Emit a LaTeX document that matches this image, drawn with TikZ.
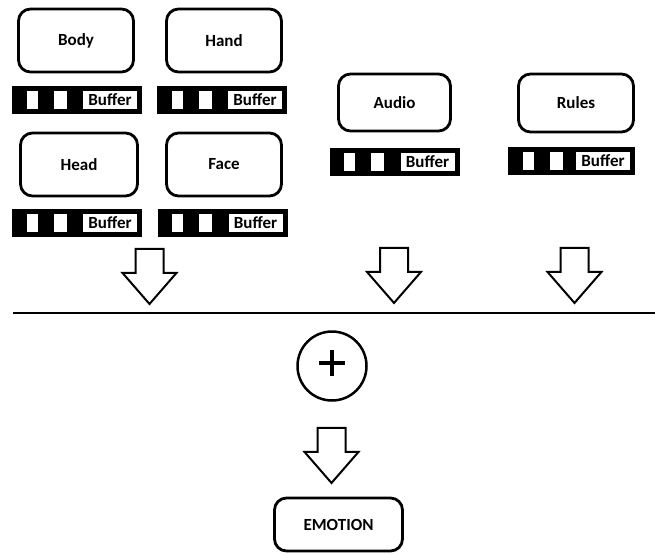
\documentclass[tikz,border=0pt]{standalone}
\usepackage{fontspec}
\setmainfont{Carlito}
\usetikzlibrary{shapes.arrows, positioning, calc}
\tikzset{
  source/.style={rectangle, rounded corners=12pt, draw, line width=2.8pt, minimum width=115pt, minimum height=63pt, font=\bfseries\fontsize{17}{20}\selectfont}, % input box
  buffer/.style={rectangle, fill=black, minimum width=130pt, minimum height=28pt, inner sep=0pt}, % black buffer strip
  buflabel/.style={rectangle, fill=white, minimum width=54pt, minimum height=18pt, inner sep=0pt, font=\bfseries\fontsize{17}{20}\selectfont},
  bigarrow/.style={single arrow, draw, line width=2pt, rotate=-90, anchor=tip, minimum height=55pt, minimum width=52pt, single arrow head extend=13pt, single arrow tip angle=82, inner xsep=0pt, inner ysep=13pt}
}

\begin{document}
\begin{tikzpicture}[x=1pt, y=-1pt, node distance=59.5pt]
    \useasboundingbox (0,0) rectangle (655,554);

    % Nodes
    \node[source] (bodyBox) at (76,40.5) {Body};
    \node[source] (handBox) at (224,40.5) {Hand};
    \node[source, minimum width=117pt] (headBox) at (79,164.5) {Head};
    \node[source] (faceBox) at (224,164.5) {Face};
    \node[source, minimum width=112pt, minimum height=57pt] (audioBox) at (394.5,102.5) {Audio};
    \node[source, minimum height=58pt] (rulesBox) at (576,103) {Rules};

    % Buffers
    \node[buffer, below of=bodyBox, xshift=1pt] (bodyBuf) {};
    \node[buffer, below of=handBox, xshift=-2pt] (handBuf) {};
    \node[buffer, below of=headBox, xshift=-2pt, node distance=58.5pt] (headBuf) {};
    \node[buffer, below of=faceBox, xshift=-1.5pt, node distance=58.5pt] (faceBuf) {};
    \node[buffer, below of=audioBox] (audioBuf) {};
    \node[buffer, below of=rulesBox, xshift=-4.5pt, node distance=58pt, minimum width=127pt] (rulesBuf) {};
    \foreach \b in {bodyBuf, handBuf, headBuf, faceBuf, audioBuf, rulesBuf} {
      \fill[white] ([xshift=15pt, yshift=-9pt]\b.west) rectangle ([xshift=26pt, yshift=9pt]\b.west);
      \fill[white] ([xshift=42pt, yshift=-9pt]\b.west) rectangle ([xshift=55pt, yshift=9pt]\b.west);
      \node[buflabel, anchor=east] (\b Label) at ([xshift=-5pt]\b.east) {Buffer};
    }

    % Arrows and merge
    \node[bigarrow] (bodyArrow) at (149.5,305.5) {};
    \node[bigarrow] (audioArrow) at (394,304.5) {};
    \node[bigarrow] (rulesArrow) at (574.5,304.5) {};
    \coordinate (lineStart) at (13,313);
    \coordinate (lineEnd) at (655,313);
    \draw[line width=2pt] (lineStart) -- (lineEnd);
    \node[draw, circle, line width=2.5pt, minimum size=69pt] (sumNode) at (332,366) {};
    \draw[line width=3.2pt] ([xshift=-13pt, yshift=3pt]sumNode.center) -- ([xshift=13pt, yshift=3pt]sumNode.center);
    \draw[line width=3.2pt] ([yshift=16pt]sumNode.center) -- ([yshift=-10pt]sumNode.center);
    \node[bigarrow] (sumArrow) at (331.5,484.5) {};
    \node[source, minimum width=128pt, minimum height=53pt] (emotionBox) at (338.5,524.5) {EMOTION};
\end{tikzpicture}
\end{document}
